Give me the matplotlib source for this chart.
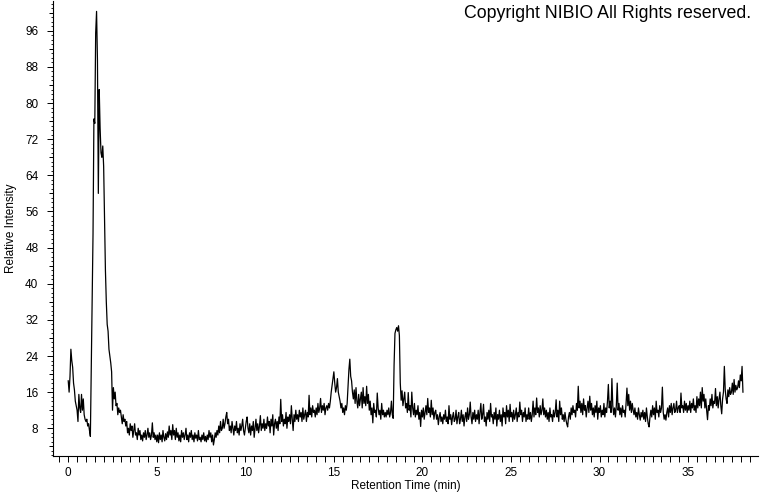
import numpy as np
import matplotlib
matplotlib.use("Agg")
import matplotlib.pyplot as plt
from matplotlib.ticker import MultipleLocator, FixedLocator

plt.rcParams['font.family'] = ['Liberation Sans', 'DejaVu Sans']

# sampling interval of the trace (min)
time_step = 0.05

# relative intensity, one row per minute (20 samples of 0.05 min)
intensity = [
    18.5, 16.0, 19.5, 25.5, 23.0, 21.5, 18.0, 16.5, 14.0, 13.0, 12.0, 9.5, 15.5, 12.5, 11.5, 15.5, 12.0, 14.5, 11.0, 10.0,
    9.5, 10.0, 8.5, 9.0, 7.5, 6.2, 21.5, 36.5, 51.0, 76.5, 75.5, 95.5, 100.3, 89.5, 60.0, 83.0, 74.5, 69.0, 68.0, 70.5,
    66.0, 54.0, 43.0, 36.0, 31.0, 29.5, 25.5, 24.0, 22.5, 20.5, 12.0, 17.0, 14.5, 16.0, 13.0, 13.5, 11.0, 12.5, 11.5, 12.0,
    10.5, 9.0, 11.0, 9.5, 10.0, 8.5, 9.5, 7.0, 8.0, 6.5, 9.0, 7.5, 8.5, 6.0, 7.5, 9.0, 6.5, 7.0, 5.5, 8.0,
    6.5, 7.5, 5.5, 6.5, 5.2, 7.0, 6.0, 7.5, 5.5, 6.5, 8.0, 6.0, 7.0, 5.5, 6.5, 9.2, 6.0, 7.0, 5.5, 6.5,
    5.0, 6.5, 4.8, 7.0, 5.5, 6.5, 5.0, 7.5, 6.0, 5.2, 6.8, 5.5, 7.2, 6.0, 8.5, 6.5, 7.5, 5.5, 8.8, 6.5,
    7.5, 5.5, 8.0, 6.0, 7.0, 5.2, 6.5, 5.0, 7.5, 6.0, 7.0, 5.5, 6.5, 8.0, 5.5, 6.5, 5.0, 7.0, 6.0, 7.5,
    5.5, 6.5, 5.0, 7.0, 5.8, 6.5, 5.2, 7.5, 5.5, 6.0, 5.0, 6.5, 5.5, 7.0, 5.2, 6.2, 5.0, 6.5, 5.5, 7.5,
    6.0, 7.0, 5.0, 6.5, 4.3, 5.5, 7.0, 6.0, 7.5, 6.5, 8.5, 7.0, 9.5, 7.5, 8.0, 10.0, 8.0, 9.0, 10.5, 11.5,
    9.0, 10.0, 7.5, 8.5, 7.0, 9.5, 8.0, 6.5, 8.5, 7.5, 9.5, 7.0, 8.0, 6.5, 9.0, 7.5, 8.5, 10.0, 7.5, 6.5,
    8.0, 9.5, 10.5, 8.0, 7.0, 9.0, 6.5, 8.5, 7.5, 9.5, 6.0, 8.0, 10.0, 7.5, 9.0, 7.0, 8.5, 10.8, 7.5, 9.0,
    8.0, 10.0, 7.5, 9.0, 8.0, 10.5, 8.5, 9.5, 7.0, 10.0, 8.5, 11.0, 6.5, 9.0, 10.0, 8.0, 9.5, 7.5, 10.5, 9.0,
    14.4, 9.5, 11.0, 8.5, 10.0, 9.0, 11.5, 8.0, 10.5, 9.5, 11.0, 9.0, 13.0, 10.0, 7.5, 11.0, 9.5, 12.0, 10.0, 11.0,
    9.5, 12.0, 10.5, 11.5, 9.5, 12.5, 10.0, 11.0, 12.0, 9.5, 11.5, 10.5, 15.3, 11.0, 12.5, 10.5, 13.0, 11.5, 12.0, 10.5,
    12.5, 11.0, 13.5, 11.5, 12.5, 14.6, 11.5, 13.0, 12.0, 13.5, 11.0, 12.5, 13.0, 12.0, 13.5, 12.5, 14.0, 16.0, 17.5, 19.0,
    20.5, 18.0, 16.0, 17.0, 19.0, 16.0, 15.0, 14.0, 12.5, 13.5, 11.5, 12.5, 11.0, 13.0, 12.0, 13.5, 17.5, 21.0, 23.3, 19.5,
    18.5, 16.0, 14.5, 16.5, 13.5, 17.0, 14.0, 12.5, 15.5, 13.0, 14.5, 16.0, 12.5, 17.0, 13.5, 15.0, 13.0, 17.3, 13.5, 15.5,
    12.0, 14.0, 11.0, 12.5, 9.2, 13.5, 11.5, 12.0, 10.5, 15.8, 12.5, 11.0, 12.0, 10.0, 13.5, 11.0, 12.0, 10.5, 11.5, 10.5,
    12.0, 11.0, 12.5, 10.5, 11.5, 14.0, 11.0, 10.2, 22.0, 29.0, 29.8, 30.3, 29.5, 30.7, 28.5, 18.0, 14.2, 16.3, 13.0, 14.5,
    16.0, 12.5, 13.5, 11.5, 15.9, 12.0, 13.0, 10.5, 16.0, 12.5, 11.0, 13.5, 10.5, 12.0, 11.0, 13.0, 10.0, 11.5, 8.4, 12.0,
    10.5, 12.5, 10.0, 11.5, 13.0, 11.0, 14.6, 11.5, 12.5, 10.5, 14.2, 11.0, 12.5, 10.0, 11.5, 12.0, 10.0, 11.0, 8.8, 10.5,
    11.5, 9.5, 10.5, 9.0, 11.0, 10.0, 12.0, 9.5, 10.5, 9.0, 13.0, 10.0, 11.0, 8.8, 10.5, 11.5, 9.5, 10.0, 12.0, 9.0,
    10.5, 11.5, 9.0, 10.0, 12.0, 9.5, 11.0, 8.5, 10.5, 11.5, 9.5, 12.5, 10.0, 11.0, 13.8, 10.5, 9.0, 11.5, 10.0, 12.0,
    9.5, 11.0, 10.0, 12.0, 9.0, 11.5, 13.5, 10.0, 11.0, 13.3, 9.5, 10.5, 8.5, 11.5, 10.0, 12.0, 9.5, 13.5, 10.5, 11.0,
    9.0, 11.5, 10.0, 12.5, 8.5, 11.0, 10.0, 12.0, 9.5, 11.0, 8.5, 12.5, 10.5, 11.5, 9.0, 13.0, 10.5, 12.0, 9.5, 13.3,
    10.5, 11.5, 9.5, 12.0, 10.0, 11.0, 12.5, 9.5, 11.5, 10.5, 13.8, 11.0, 12.0, 9.5, 11.5, 10.5, 12.5, 9.5, 11.0, 10.0,
    12.5, 10.0, 11.5, 9.5, 11.0, 14.0, 10.5, 12.5, 11.0, 14.7, 11.5, 12.5, 10.5, 13.0, 11.0, 12.0, 14.5, 11.0, 12.5, 10.5,
    12.0, 10.0, 11.5, 9.5, 12.5, 10.5, 11.0, 9.5, 12.0, 10.5, 11.5, 14.3, 10.5, 12.0, 9.5, 14.0, 11.0, 12.5, 10.0, 11.0,
    9.5, 11.5, 10.0, 9.0, 8.3, 10.5, 11.5, 10.0, 12.5, 11.0, 13.0, 11.5, 12.0, 10.5, 13.5, 12.0, 17.3, 12.5, 14.0, 11.5,
    13.5, 11.0, 14.5, 12.0, 13.0, 10.5, 12.5, 14.0, 11.5, 15.1, 12.0, 13.5, 11.0, 12.5, 10.5, 13.0, 11.5, 14.0, 10.0, 12.5,
    11.5, 13.0, 10.5, 12.0, 11.0, 13.5, 10.5, 12.5, 11.5, 14.0, 17.7, 12.5, 14.0, 11.5, 19.0, 13.0, 11.0, 12.5, 10.5, 13.0,
    18.0, 12.0, 13.5, 11.0, 12.5, 10.5, 13.0, 11.5, 12.0, 10.5, 13.5, 16.9, 13.0, 15.5, 12.0, 14.0, 11.5, 13.5, 12.0, 11.0,
    12.5, 10.5, 11.5, 10.0, 12.5, 11.0, 9.8, 11.5, 10.5, 12.0, 10.0, 11.5, 9.5, 12.5, 10.5, 9.0, 8.3, 10.5, 12.0, 10.5,
    13.0, 11.0, 12.5, 10.0, 14.0, 11.5, 12.0, 10.5, 13.0, 11.5, 12.5, 17.1, 11.5, 10.0, 11.0, 9.8, 11.5, 12.5, 10.5, 13.0,
    11.5, 13.5, 11.0, 12.5, 13.5, 11.5, 12.0, 14.0, 11.5, 12.5, 13.0, 11.5, 15.8, 12.5, 13.0, 11.5, 14.0, 12.0, 13.5, 11.5,
    13.0, 12.0, 14.0, 11.5, 13.5, 12.5, 14.5, 12.0, 13.0, 11.5, 15.0, 12.5, 14.5, 13.0, 16.0, 12.5, 17.0, 14.0, 15.5, 12.5,
    14.5, 12.0, 9.9, 13.0, 12.0, 14.5, 13.0, 15.5, 12.5, 14.0, 13.5, 16.8, 13.0, 15.0, 12.5, 14.5, 16.0, 13.0, 11.2, 14.5,
    16.0, 21.7, 16.5, 14.5, 13.5, 16.5, 15.0, 17.0, 15.5, 16.0, 18.0, 15.5, 18.8, 16.0, 17.5, 16.5, 17.0, 18.5, 17.0, 19.8,
    18.5, 21.7, 16.0,
]
retention_time = np.arange(len(intensity)) * time_step

x_major_ticks = [0, 5, 10, 15, 20, 25, 30, 35]
y_major_ticks = [8, 16, 24, 32, 40, 48, 56, 64, 72, 80, 88, 96]
y_mid_ticks = [4, 12, 20, 28, 36, 44, 52, 60, 68, 76, 84, 92, 100]

fig = plt.figure(figsize=(7.6, 4.92), dpi=100)
ax = fig.add_axes([53 / 760, 36 / 492, 705 / 760, 455 / 492])
ax.plot(retention_time, intensity, color='black', linewidth=0.9)

ax.set_xlim(-0.86, 38.95)
ax.set_ylim(1.86, 102.6)
ax.spines['top'].set_visible(False)
ax.spines['right'].set_visible(False)
for s in ('left', 'bottom'):
    ax.spines[s].set_linewidth(0.8)

ax.xaxis.set_major_locator(FixedLocator(x_major_ticks))
ax.xaxis.set_minor_locator(MultipleLocator(0.5))
ax.yaxis.set_major_locator(FixedLocator(y_major_ticks))
ax.yaxis.set_minor_locator(MultipleLocator(1))

ax.tick_params(axis='x', which='major', length=4.3, width=0.7, pad=3.5, labelsize=8.5)
ax.tick_params(axis='x', which='minor', length=4.3, width=0.7)
ax.tick_params(axis='y', which='major', length=4.5, width=0.7, pad=6, labelsize=8.5)
ax.tick_params(axis='y', which='minor', length=1.8, width=0.6)

sec = ax.secondary_yaxis('left')
sec.yaxis.set_major_locator(FixedLocator(y_mid_ticks))
sec.tick_params(axis='y', which='major', length=3.2, width=0.7, labelleft=False)
sec.yaxis.set_minor_locator(FixedLocator([]))
sec.spines['left'].set_visible(False)

ax.set_xlabel('Retention Time (min)', fontsize=8.5, labelpad=0.5)
ax.set_ylabel('Relative Intensity', fontsize=8.5, labelpad=6)

fig.text(751 / 760, 1 - 14 / 492, 'Copyright NIBIO All Rights reserved.',
         ha='right', va='center', fontsize=12.8)

fig.savefig('out.png', dpi=100, facecolor='white')
